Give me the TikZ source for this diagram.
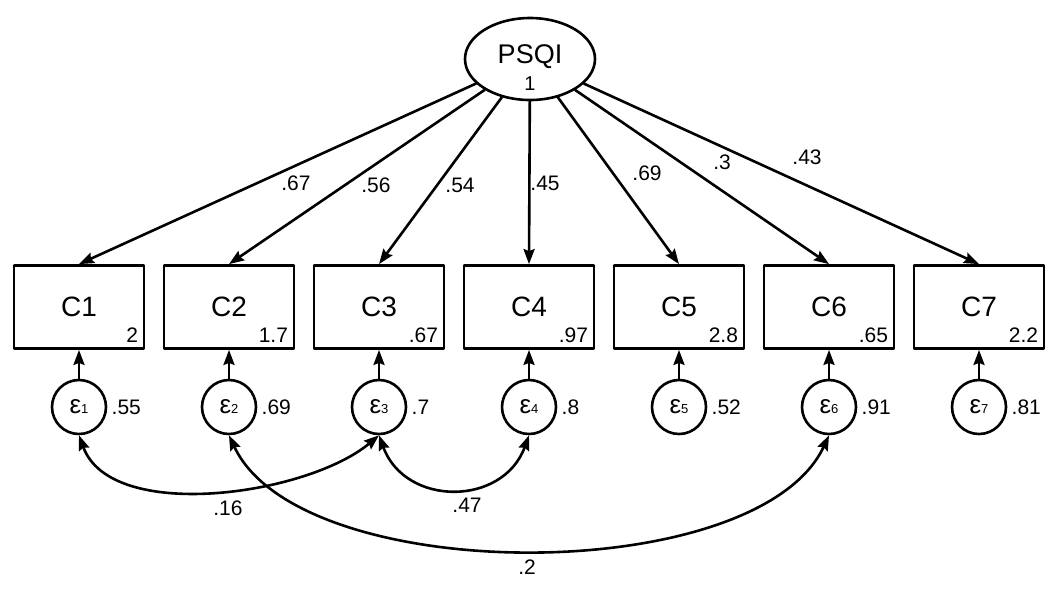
\documentclass[tikz,border=0pt]{standalone}
\usepackage{fontspec}
\setmainfont{Liberation Sans}
\usetikzlibrary{shapes.geometric,arrows.meta}

\newcommand{\errsym}[1]{{\fontsize{13}{15}\selectfont ε}{\fontsize{6.5}{8}\selectfont #1}}

\tikzset{
  latent/.style={draw, ellipse, line width=1.3pt, minimum width=65pt, minimum height=41pt, inner sep=0pt},
  observed/.style={draw, rectangle, line width=1.4pt, minimum width=65pt, minimum height=41.5pt, inner sep=0pt, font=\fontsize{14}{16}\selectfont},
  errnode/.style={draw, circle, line width=1.3pt, minimum size=27pt, inner sep=0pt},
  load/.style={line width=1.3pt, -{Stealth[length=7.5pt,width=5.5pt,inset=1pt]}},
  cov/.style={line width=1.3pt, {Stealth[length=7.5pt,width=5.5pt,inset=1pt]}-{Stealth[length=7.5pt,width=5.5pt,inset=1pt]}},
  est/.style={font=\fontsize{10.5}{12}\selectfont, inner sep=1pt},
  intlab/.style={font=\fontsize{10.5}{12}\selectfont, anchor=south east, inner sep=3.5pt},
  varlab/.style={font=\fontsize{10.5}{12}\selectfont, anchor=west, inner sep=2pt}
}

\begin{document}
\begin{tikzpicture}[x=0.5pt, y=-0.5pt, line join=round, line cap=round]
  \useasboundingbox (0,0) rectangle (1063,601);

  % factor
  \node[latent] (psqi) at (530,59) {};
  \node[font=\fontsize{13.5}{15}\selectfont] (psqiname) at (530,57) {PSQI};
  \node[font=\fontsize{10}{11}\selectfont] (psqivar) at (530,84) {1};

  % indicators
  \node[observed] (c1) at (79,307) {C1};
  \node[observed] (c2) at (229,307) {C2};
  \node[observed] (c3) at (379,307) {C3};
  \node[observed] (c4) at (529,307) {C4};
  \node[observed] (c5) at (679,307) {C5};
  \node[observed] (c6) at (829,307) {C6};
  \node[observed] (c7) at (979,307) {C7};

  \node[intlab] (i1) at (c1.south east) {2};
  \node[intlab] (i2) at (c2.south east) {1.7};
  \node[intlab] (i3) at (c3.south east) {.67};
  \node[intlab] (i4) at (c4.south east) {.97};
  \node[intlab] (i5) at (c5.south east) {2.8};
  \node[intlab] (i6) at (c6.south east) {.65};
  \node[intlab] (i7) at (c7.south east) {2.2};

  % errors
  \node[errnode] (e1) at (79,407) {\errsym{1}};
  \node[errnode] (e2) at (229,407) {\errsym{2}};
  \node[errnode] (e3) at (379,407) {\errsym{3}};
  \node[errnode] (e4) at (529,407) {\errsym{4}};
  \node[errnode] (e5) at (679,407) {\errsym{5}};
  \node[errnode] (e6) at (829,407) {\errsym{6}};
  \node[errnode] (e7) at (979,407) {\errsym{7}};

  \node[varlab] (v1) at (e1.east) {.55};
  \node[varlab] (v2) at (e2.east) {.69};
  \node[varlab] (v3) at (e3.east) {.7};
  \node[varlab] (v4) at (e4.east) {.8};
  \node[varlab] (v5) at (e5.east) {.52};
  \node[varlab] (v6) at (e6.east) {.91};
  \node[varlab] (v7) at (e7.east) {.81};

  % loadings
  \draw[load] (psqi) -- (c1.north);
  \draw[load] (psqi) -- (c2.north);
  \draw[load] (psqi) -- (c3.north);
  \draw[load] (psqi) -- (c4.north);
  \draw[load] (psqi) -- (c5.north);
  \draw[load] (psqi) -- (c6.north);
  \draw[load] (psqi) -- (c7.north);
  \node[est] (l1) at (296,183) {.67};
  \node[est] (l2) at (376,185) {.56};
  \node[est] (l3) at (460,185) {.54};
  \node[est] (l4) at (545,183) {.45};
  \node[est] (l5) at (647,173) {.69};
  \node[est] (l6) at (722,162) {.3};
  \node[est] (l7) at (807,157) {.43};

  % error paths
  \draw[load] (e1) -- (c1);
  \draw[load] (e2) -- (c2);
  \draw[load] (e3) -- (c3);
  \draw[load] (e4) -- (c4);
  \draw[load] (e5) -- (c5);
  \draw[load] (e6) -- (c6);
  \draw[load] (e7) -- (c7);

  % covariances
  \draw[cov] (e1.south) to[out=-70, in=-140, looseness=0.8] (e3.south);
  \draw[cov] (e3.south) to[out=-70, in=-110, looseness=1.3] (e4.south);
  \draw[cov] (e2.south) to[out=-65, in=-115, looseness=0.72] (e6.south);
  \node[est] (r13) at (228,508) {.16};
  \node[est] (r34) at (467,505) {.47};
  \node[est] (r26) at (527,567) {.2};
\end{tikzpicture}
\end{document}
